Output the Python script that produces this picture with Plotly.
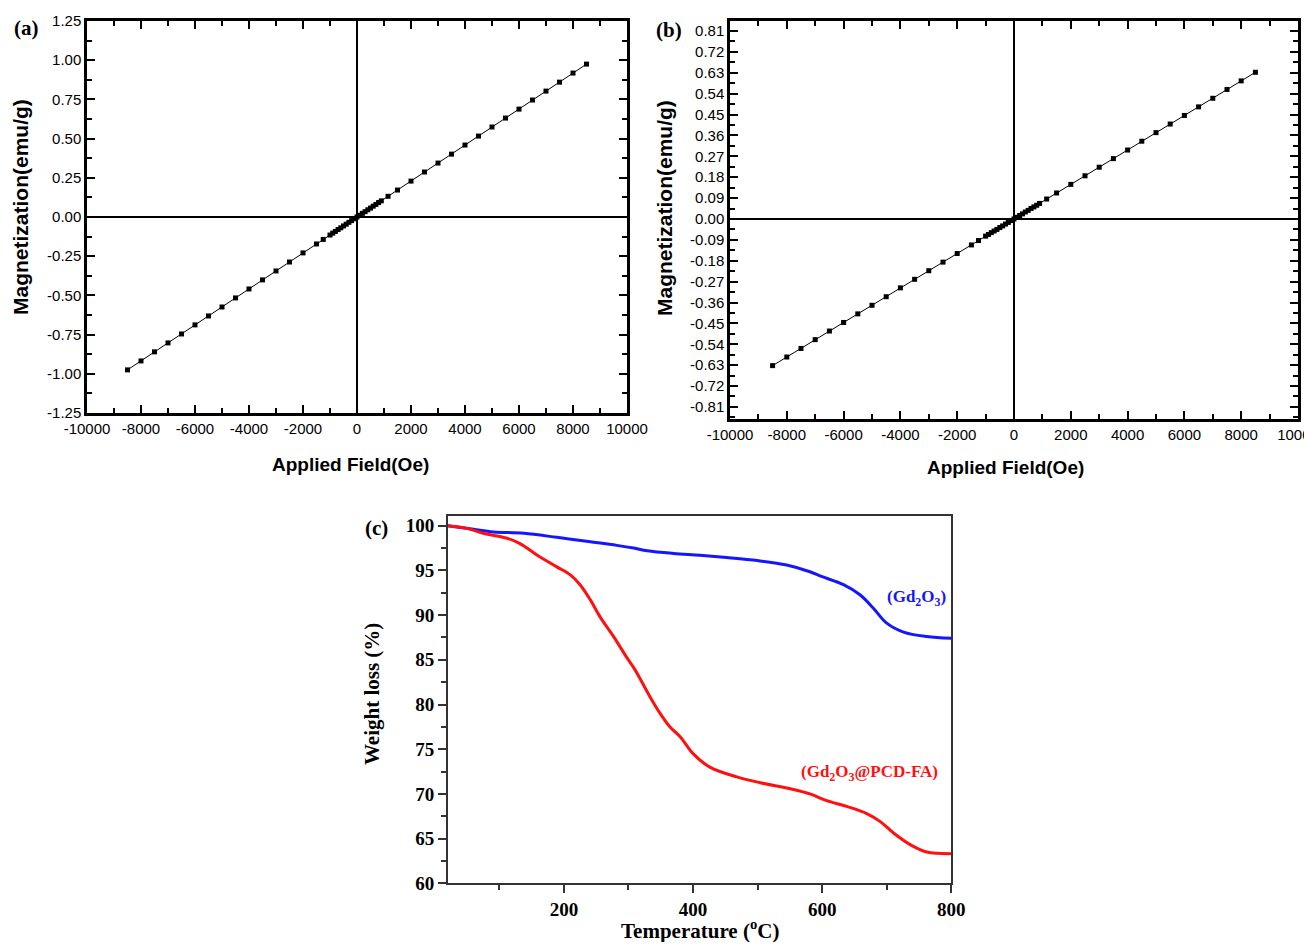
import plotly.graph_objects as go

# ---------------- data ----------------
# (a) M-H curve
field_a = [-8500, -8000, -7500, -7000, -6500, -6000, -5500, -5000, -4500, -4000, -3500,
           -3000, -2500, -2000, -1500, -1250, -1000, -900, -800, -700, -600, -500, -400,
           -300, -200, -100, 0, 100, 200, 300, 400, 500, 600, 700, 800, 900, 1150, 1500,
           2000, 2500, 3000, 3500, 4000, 4500, 5000, 5500, 6000, 6500, 7000, 7500, 8000, 8500]
mag_a = [-0.975, -0.918, -0.860, -0.803, -0.746, -0.688, -0.631, -0.574, -0.516, -0.459, -0.401,
         -0.344, -0.287, -0.229, -0.172, -0.143, -0.115, -0.103, -0.092, -0.080, -0.069, -0.057, -0.046,
         -0.034, -0.023, -0.011, 0.000, 0.011, 0.023, 0.034, 0.046, 0.057, 0.069, 0.080, 0.092, 0.103, 0.132, 0.172,
         0.229, 0.287, 0.344, 0.401, 0.459, 0.516, 0.574, 0.631, 0.688, 0.746, 0.803, 0.860, 0.918, 0.975]

# (b) M-H curve
field_b = field_a
mag_b = [-0.632, -0.595, -0.558, -0.520, -0.483, -0.446, -0.409, -0.372, -0.335, -0.297, -0.260,
         -0.223, -0.186, -0.149, -0.112, -0.093, -0.074, -0.067, -0.059, -0.052, -0.045, -0.037, -0.030,
         -0.022, -0.015, -0.007, 0.000, 0.007, 0.015, 0.022, 0.030, 0.037, 0.045, 0.052, 0.059, 0.067, 0.086, 0.112,
         0.149, 0.186, 0.223, 0.260, 0.297, 0.335, 0.372, 0.409, 0.446, 0.483, 0.520, 0.558, 0.595, 0.632]

# (c) TGA curves
temp_pcd = [20, 50, 75, 112, 132, 163, 189, 210, 225, 241, 256, 277, 297, 310, 333, 349, 364, 380,
            400, 426, 468, 504, 555, 581, 607, 638, 669, 690, 711, 737, 762, 780, 800]
wt_pcd = [100.0, 99.7, 99.15, 98.6, 98.0, 96.5, 95.4, 94.5, 93.4, 91.7, 89.8, 87.6, 85.3, 83.9, 80.9,
          79.0, 77.5, 76.4, 74.5, 73.0, 71.9, 71.25, 70.5, 70.0, 69.25, 68.6, 67.8, 66.9, 65.6, 64.3,
          63.5, 63.35, 63.3]
temp_gd = [20, 60, 91, 138, 189, 241, 282, 308, 329, 370, 411, 452, 500, 545, 581, 600, 633, 659,
           679, 700, 726, 762, 800]
wt_gd = [100.0, 99.6, 99.3, 99.15, 98.7, 98.2, 97.8, 97.5, 97.2, 96.9, 96.7, 96.45, 96.1, 95.6, 94.85,
         94.3, 93.4, 92.25, 90.8, 89.1, 88.1, 87.6, 87.4]

# tick labels
xticks_ab = [-10000, -8000, -6000, -4000, -2000, 0, 2000, 4000, 6000, 8000, 10000]
xticklabels_ab = ["-10000", "-8000", "-6000", "-4000", "-2000", "0", "2000", "4000", "6000", "8000", "10000"]
yticks_a = [-1.25, -1.00, -0.75, -0.50, -0.25, 0.00, 0.25, 0.50, 0.75, 1.00, 1.25]
yticklabels_a = ["-1.25", "-1.00", "-0.75", "-0.50", "-0.25", "0.00", "0.25", "0.50", "0.75", "1.00", "1.25"]
yticks_b = [-0.81, -0.72, -0.63, -0.54, -0.45, -0.36, -0.27, -0.18, -0.09, 0.00,
            0.09, 0.18, 0.27, 0.36, 0.45, 0.54, 0.63, 0.72, 0.81]
yticklabels_b = ["-0.81", "-0.72", "-0.63", "-0.54", "-0.45", "-0.36", "-0.27", "-0.18", "-0.09", "0.00",
                 "0.09", "0.18", "0.27", "0.36", "0.45", "0.54", "0.63", "0.72", "0.81"]

# ---------------- figure ----------------
OFF = 8  # default page margin of the html body
W, H = 1312 - 2 * OFF, 950 - 2 * OFF
fig = go.Figure()

marker = dict(symbol="square", size=5, color="black")
fig.add_trace(go.Scatter(x=field_a, y=mag_a, mode="lines+markers", marker=marker,
                         line=dict(color="black", width=1), xaxis="x", yaxis="y", showlegend=False))
fig.add_trace(go.Scatter(x=field_b, y=mag_b, mode="lines+markers", marker=marker,
                         line=dict(color="black", width=1), xaxis="x2", yaxis="y2", showlegend=False))
fig.add_trace(go.Scatter(x=temp_gd, y=wt_gd, mode="lines", line=dict(color="#1515ff", width=3, shape="spline"),
                         xaxis="x3", yaxis="y3", showlegend=False))
fig.add_trace(go.Scatter(x=temp_pcd, y=wt_pcd, mode="lines", line=dict(color="#ff1010", width=3, shape="spline"),
                         xaxis="x3", yaxis="y3", showlegend=False))

def px(x):
    return (x - OFF) / W

def py(y):
    return 1 - (y - OFF) / H

sans = "Liberation Sans, Arial, sans-serif"
serif = "Liberation Serif, Times New Roman, serif"

common_ab = dict(showgrid=False, showline=True, linecolor="black", linewidth=2.5, mirror="ticks",
                 ticks="inside", ticklen=8, tickwidth=2, tickcolor="black", automargin=False,
                 zeroline=True, zerolinecolor="black", zerolinewidth=2,
                 tickfont=dict(family=sans, size=15, color="black"))

fig.update_layout(
    width=W, height=H, margin=dict(l=0, r=0, t=0, b=0, autoexpand=False),
    paper_bgcolor="white", plot_bgcolor="white",
    xaxis=dict(domain=[px(87), px(627)], anchor="y", range=[-10000, 10000],
               tickvals=xticks_ab, ticktext=xticklabels_ab,
               minor=dict(dtick=1000, tick0=0, ticks="inside", ticklen=5, tickwidth=2, tickcolor="black"),
               **common_ab),
    yaxis=dict(domain=[py(413), py(21)], anchor="x", range=[-1.25, 1.25],
               tickvals=yticks_a, ticktext=yticklabels_a,
               minor=dict(dtick=0.125, tick0=0, ticks="inside", ticklen=5, tickwidth=2, tickcolor="black"),
               **common_ab),
    xaxis2=dict(domain=[px(730), px(1298)], anchor="y2", range=[-10000, 10000],
                tickvals=xticks_ab, ticktext=xticklabels_ab, ticklabeloverflow="allow",
                minor=dict(dtick=1000, tick0=0, ticks="inside", ticklen=5, tickwidth=2, tickcolor="black"),
                **common_ab),
    yaxis2=dict(domain=[py(419), py(21)], anchor="x2", range=[-0.862, 0.853],
                tickvals=yticks_b, ticktext=yticklabels_b,
                minor=dict(dtick=0.045, tick0=0, ticks="inside", ticklen=5, tickwidth=2, tickcolor="black"),
                **common_ab),
    xaxis3=dict(domain=[px(447.7), px(951.3)], anchor="y3", range=[20, 800], automargin=False,
                tickvals=[200, 400, 600, 800], showgrid=False, zeroline=False,
                showline=True, linecolor="#333333", linewidth=1.5, mirror=True,
                ticks="outside", ticklen=8, tickwidth=1.5, tickcolor="#333333",
                minor=dict(tickvals=[100, 300, 500, 700], ticks="outside", ticklen=5, tickwidth=1.5, tickcolor="#333333"),
                tickfont=dict(family=serif, size=19, color="black", weight="bold")),
    yaxis3=dict(domain=[py(883.3), py(515.7)], anchor="x3", range=[60, 101.12], automargin=False,
                tickvals=[60, 65, 70, 75, 80, 85, 90, 95, 100], showgrid=False, zeroline=False,
                showline=True, linecolor="#333333", linewidth=1.5, mirror=True,
                ticks="outside", ticklen=8, tickwidth=1.5, tickcolor="#333333",
                minor=dict(dtick=2.5, tick0=0, ticks="outside", ticklen=5, tickwidth=1.5, tickcolor="#333333"),
                tickfont=dict(family=serif, size=19, color="black", weight="bold")),
)

ann = []
def txt(x, y, s, font, angle=0, xref="paper", yref="paper", xanchor="center"):
    ann.append(dict(x=x, y=y, xref=xref, yref=yref, text=s, showarrow=False, font=font,
                    textangle=angle, xanchor=xanchor, yanchor="middle"))

fx = dict(family=sans, size=19, color="black", weight="bold")
fy = dict(family=sans, size=21, color="black", weight="bold")
txt(px(350), py(465), "Applied Field(Oe)", fx)
txt(px(20), py(207), "Magnetization(emu/g)", fy, angle=-90)
txt(px(1005), py(468), "Applied Field(Oe)", fx)
txt(px(664), py(208), "Magnetization(emu/g)", fy, angle=-90)

txt(px(372), py(694), "Weight loss (%)", dict(family=serif, size=21, color="black", weight="bold"), angle=-90)
txt(px(700), py(929), "Temperature (<sup>o</sup>C)", dict(family=serif, size=21, color="black", weight="bold"))

fl = dict(family=serif, size=21, color="black", weight="bold")
txt(px(26), py(28), "(a)", fl)
txt(px(669), py(30), "(b)", fl)
txt(px(376), py(528), "(c)", fl)

txt(746, 91.9, "(Gd<sub>2</sub>O<sub>3</sub>)", dict(family=serif, size=17, color="#1515ff", weight="bold"),
    xref="x3", yref="y3")
txt(674, 72.3, "(Gd<sub>2</sub>O<sub>3</sub>@PCD-FA)", dict(family=serif, size=17, color="#ff1010", weight="bold"),
    xref="x3", yref="y3")

fig.update_layout(annotations=ann)
fig.write_html("out.html")
